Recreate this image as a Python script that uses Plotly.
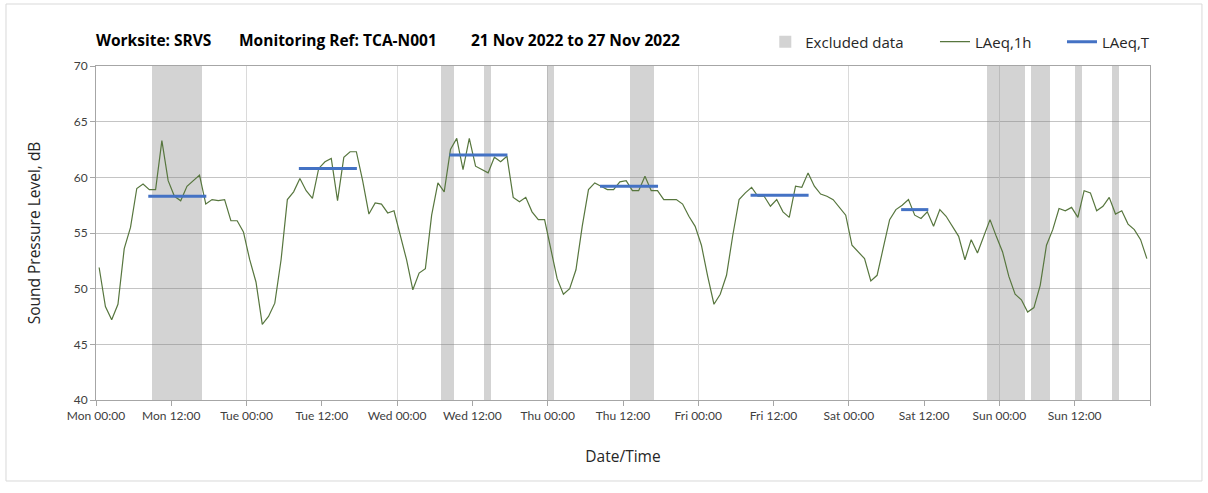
import pandas as pd
import plotly.graph_objects as go

# Hourly LAeq values (dB), one per hour starting Mon 21 Nov 2022 00:00
laeq_1h = [
    51.9, 48.4, 47.2, 48.6, 53.6, 55.5, 59.0, 59.4, 58.9, 58.9,
    63.3, 59.7, 58.3, 57.9, 59.2, 59.7, 60.2, 57.6, 58.0, 57.9,
    58.0, 56.1, 56.1, 55.1, 52.6, 50.6, 46.8, 47.5, 48.7, 52.6,
    58.0, 58.7, 59.9, 58.8, 58.1, 60.8, 61.4, 61.7, 57.9, 61.8,
    62.3, 62.3, 59.7, 56.7, 57.7, 57.6, 56.8, 57.0, 54.9, 52.6,
    49.9, 51.4, 51.8, 56.6, 59.5, 58.7, 62.5, 63.5, 60.7, 63.5,
    61.0, 60.7, 60.4, 61.8, 61.4, 61.9, 58.2, 57.8, 58.2, 56.9,
    56.2, 56.2, 53.6, 50.9, 49.5, 50.0, 51.7, 55.6, 58.9, 59.5,
    59.2, 58.9, 58.9, 59.6, 59.7, 58.8, 58.8, 60.1, 58.8, 58.8,
    58.0, 58.0, 58.0, 57.6, 56.5, 55.6, 53.9, 51.1, 48.6, 49.5,
    51.2, 54.8, 58.0, 58.6, 59.1, 58.3, 58.3, 57.4, 58.0, 56.9,
    56.4, 59.2, 59.1, 60.4, 59.2, 58.5, 58.3, 58.0, 57.3, 56.6,
    53.9, 53.3, 52.7, 50.7, 51.2, 53.7, 56.2, 57.1, 57.5, 58.0,
    56.6, 56.3, 56.9, 55.6, 57.1, 56.5, 55.6, 54.7, 52.6, 54.4,
    53.2, 54.7, 56.2, 54.7, 53.3, 51.1, 49.5, 49.0, 47.9, 48.3,
    50.3, 53.9, 55.3, 57.2, 57.0, 57.3, 56.4, 58.8, 58.6, 57.0,
    57.4, 58.2, 56.7, 57.0, 55.8, 55.3, 54.4, 52.7,
]
# each hourly value is plotted at the middle of its hour
first_hour_mid = "2022-11-21 00:30"

# Periods excluded from the assessment
excluded_start = [
    "2022-11-21 09:00", "2022-11-23 07:00", "2022-11-23 13:55",
    "2022-11-23 23:55", "2022-11-24 13:05", "2022-11-26 22:00",
    "2022-11-27 05:00", "2022-11-27 12:05", "2022-11-27 18:00",
]
excluded_end = [
    "2022-11-21 16:50", "2022-11-23 09:00", "2022-11-23 15:00",
    "2022-11-24 01:00", "2022-11-24 17:00", "2022-11-27 04:00",
    "2022-11-27 08:00", "2022-11-27 13:05", "2022-11-27 19:00",
]

# Daytime assessment periods and their LAeq,T (dB)
period_start = [
    "2022-11-21 08:20", "2022-11-22 08:20", "2022-11-23 08:20",
    "2022-11-24 08:20", "2022-11-25 08:20", "2022-11-26 08:20",
]
period_end = [
    "2022-11-21 17:35", "2022-11-22 17:35", "2022-11-23 17:35",
    "2022-11-24 17:35", "2022-11-25 17:35", "2022-11-26 12:40",
]
laeq_t = [58.3, 60.8, 62.0, 59.2, 58.4, 57.1]

y_min, y_max = 40, 70
x_start, x_end = "2022-11-21 00:00", "2022-11-28 00:00"

FONT = "Open Sans"
TICK_FONT = "Lato"
HOUR_MS = 3600 * 1000

times = pd.date_range(first_hour_mid, periods=len(laeq_1h), freq="h")

ex_s = pd.to_datetime(excluded_start)
ex_e = pd.to_datetime(excluded_end)
ex_mid = ex_s + (ex_e - ex_s) / 2
ex_width = [(e - s).total_seconds() * 1000 for s, e in zip(ex_s, ex_e)]

t_x, t_y = [], []
for s, e, v in zip(period_start, period_end, laeq_t):
    t_x += [s, e, None]
    t_y += [v, v, None]

# 12-hourly ticks; the closing tick at the end of the week carries no label
tick_times = pd.date_range(x_start, x_end, freq="12h")
tick_text = [t.strftime("%a %H:%M") for t in tick_times[:-1]] + [""]

fig = go.Figure()

fig.add_trace(go.Bar(
    x=ex_mid, y=[y_max - y_min] * len(ex_mid), base=y_min, width=ex_width,
    marker=dict(color="rgba(128,128,128,0.35)", line=dict(width=0)),
    name="Excluded data", legend="legend", hoverinfo="skip",
    xaxis="x", yaxis="y",
))

fig.add_trace(go.Scatter(
    x=times, y=laeq_1h, mode="lines",
    line=dict(color="#57763E", width=1.2),
    name="LAeq,1h", legend="legend2", xaxis="x2", yaxis="y",
))

fig.add_trace(go.Scatter(
    x=t_x, y=t_y, mode="lines",
    line=dict(color="#4472C4", width=3),
    name="LAeq,T", legend="legend3", xaxis="x2", yaxis="y",
))

legend_common = dict(
    orientation="h", yref="paper", y=1.072, yanchor="middle",
    xanchor="left", bgcolor="rgba(0,0,0,0)",
    font=dict(family=FONT, size=15, color="#262626"),
)

title_font = dict(family=FONT, size=15.5, color="#000000")

fig.update_layout(
    width=1208, height=493,
    margin=dict(l=96, r=58, t=66, b=93),
    paper_bgcolor="white", plot_bgcolor="white",
    showlegend=True,
    bargap=0,
    legend=dict(x=0.635, **legend_common),
    legend2=dict(x=0.796, **legend_common),
    legend3=dict(x=0.9165, **legend_common),
    xaxis=dict(
        type="date", range=[x_start, x_end],
        tickmode="array", tickvals=tick_times, ticktext=tick_text,
        ticks="outside", ticklen=5, tickcolor="#A6A6A6",
        showgrid=False, zeroline=False,
        showline=True, linecolor="#A6A6A6", linewidth=1, mirror=True,
        tickfont=dict(family=TICK_FONT, size=12, color="#404040"),
        title=dict(text="Date/Time", standoff=28,
                   font=dict(family=FONT, size=15.5, color="#262626")),
    ),
    xaxis2=dict(
        type="date", overlaying="x", matches="x", range=[x_start, x_end],
        tick0=x_start, dtick=24 * HOUR_MS,
        showgrid=True, gridcolor="#DADADA", gridwidth=1,
        showticklabels=False, ticks="", showline=False, zeroline=False,
    ),
    yaxis=dict(
        range=[y_min, y_max], dtick=5,
        ticks="outside", ticklen=5, tickcolor="#A6A6A6",
        showgrid=True, gridcolor="#C4C4C4", gridwidth=1, zeroline=False,
        showline=True, linecolor="#A6A6A6", linewidth=1, mirror=True,
        tickfont=dict(family=TICK_FONT, size=12, color="#404040"),
        title=dict(text="Sound Pressure Level, dB", standoff=29,
                   font=dict(family=FONT, size=15.5, color="#262626")),
    ),
    annotations=[
        dict(text="<b>Worksite: SRVS</b>", x=-0.002, y=1.078,
             xref="paper", yref="paper", xanchor="left", yanchor="middle",
             showarrow=False, font=title_font),
        dict(text="<b>Monitoring Ref: TCA-N001</b>", x=0.1338, y=1.078,
             xref="paper", yref="paper", xanchor="left", yanchor="middle",
             showarrow=False, font=title_font),
        dict(text="<b>21 Nov 2022 to 27 Nov 2022</b>", x=0.3539, y=1.078,
             xref="paper", yref="paper", xanchor="left", yanchor="middle",
             showarrow=False, font=title_font),
    ],
    shapes=[
        dict(type="rect", xref="paper", yref="paper",
             x0=-0.0854, x1=1.0493, y0=-0.2425, y1=1.1856,
             line=dict(color="#D9D9D9", width=1), fillcolor="rgba(0,0,0,0)",
             layer="below"),
    ],
)

fig.write_html("out.html")
